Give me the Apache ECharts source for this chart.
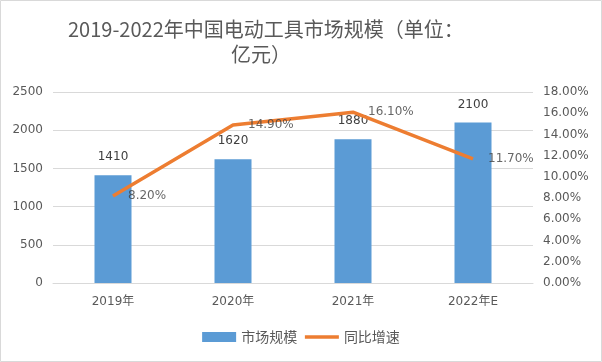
<!DOCTYPE html>
<html><head><meta charset="utf-8">
<script src="https://cdn.jsdelivr.net/npm/echarts@6/dist/echarts.min.js"></script>
<style>html,body{margin:0;padding:0;background:#fff}#c{width:602px;height:362px}</style>
</head><body><div id="c"></div>
<script>
var categories = ['2019年', '2020年', '2021年', '2022年E'];
var marketSize = [1410, 1620, 1880, 2100];
var growthRate = [8.2, 14.9, 16.1, 11.7];
var leftTicks = [0, 500, 1000, 1500, 2000, 2500];
var rightTicks = [0, 2, 4, 6, 8, 10, 12, 14, 16, 18];
var titleLines = ['2019-2022年中国电动工具市场规模（单位：', '亿元）'];

var FONT = 'DejaVu Sans, "Noto Sans CJK SC", sans-serif';
var titleStyle = { fontFamily: '"Noto Sans CJK SC", sans-serif', fontSize: 20, fontWeight: 'normal', color: '#595959', lineHeight: 25 };
var chart = echarts.init(document.getElementById('c'));
chart.setOption({
  animation: false,
  textStyle: { fontFamily: FONT },
  graphic: [{ type: 'rect', shape: { x: 0.5, y: 0.5, width: 601, height: 361 }, style: { fill: 'none', stroke: '#d9d9d9', lineWidth: 1 }, silent: true }],
  title: [
    { text: titleLines[0], left: 63, top: 12, textStyle: titleStyle },
    { text: titleLines[1], left: 226, top: 37, textStyle: titleStyle }
  ],
  legend: {
    bottom: 13, left: 'center',
    itemWidth: 34, itemHeight: 10, itemGap: 6,
    textStyle: { fontFamily: '"Noto Sans CJK SC", sans-serif', fontSize: 14, color: '#595959' },
    data: [
      { name: '市场规模', icon: 'rect' },
      { name: '同比增速', itemStyle: { opacity: 0, color: 'transparent', borderColor: 'transparent' }, lineStyle: { width: 3.5, color: '#ed7d31' } }
    ]
  },
  grid: { left: 53, right: 69, top: 92, bottom: 79 },
  xAxis: {
    type: 'category', data: categories,
    axisLine: { lineStyle: { color: '#d9d9d9' } },
    axisTick: { show: false },
    axisLabel: { color: '#595959', fontSize: 12, margin: 13, fontFamily: FONT }
  },
  yAxis: [{
    type: 'value', min: leftTicks[0], max: leftTicks[leftTicks.length - 1], interval: 500,
    axisLine: { show: false }, axisTick: { show: false },
    splitLine: { lineStyle: { color: '#d9d9d9' } },
    axisLabel: { color: '#595959', fontSize: 12, margin: 10, fontFamily: FONT, formatter: function (v) { return String(v); } }
  }, {
    type: 'value', min: rightTicks[0], max: rightTicks[rightTicks.length - 1], interval: 2,
    axisLine: { show: false }, axisTick: { show: false },
    splitLine: { show: false },
    axisLabel: { color: '#595959', fontSize: 12, margin: 10, fontFamily: FONT, formatter: function (v) { return v.toFixed(2) + '%'; } }
  }],
  series: [{
    name: '市场规模', type: 'bar', data: marketSize, barWidth: 37,
    itemStyle: { color: '#5b9bd5' },
    label: { show: true, position: 'top', distance: 12, color: '#404040', fontSize: 12, fontFamily: FONT }
  }, {
    name: '同比增速', type: 'line', yAxisIndex: 1, data: growthRate,
    symbol: 'none',
    lineStyle: { color: '#ed7d31', width: 3.5 },
    itemStyle: { color: '#ed7d31' }
  }, {
    name: '增速标签', type: 'scatter', yAxisIndex: 1, data: growthRate,
    symbolSize: 2, itemStyle: { color: 'rgba(0,0,0,0)' }, silent: true, z: 5,
    label: { show: true, position: 'right', distance: 14, color: '#404040', fontSize: 12, fontFamily: FONT, formatter: function (p) { return Number(p.value).toFixed(2) + '%'; } }
  }]
});
</script></body></html>
